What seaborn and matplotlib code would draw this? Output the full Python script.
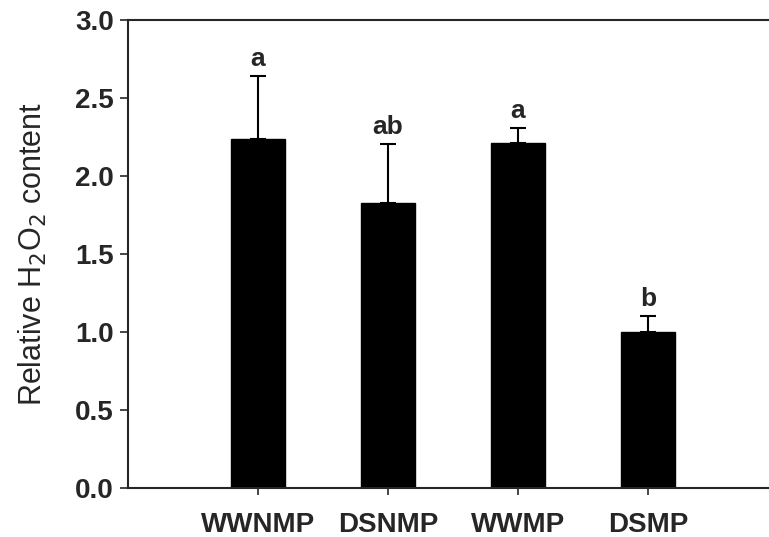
import pandas as pd
import seaborn as sns
import matplotlib.pyplot as plt

groups = ['WWNMP', 'DSNMP', 'WWMP', 'DSMP']
h2o2 = [2.24, 1.83, 2.21, 1.00]
h2o2_err = [0.40, 0.375, 0.10, 0.105]
letters = ['a', 'ab', 'a', 'b']

df = pd.DataFrame({'group': groups, 'value': h2o2, 'err': h2o2_err, 'sig': letters})

sns.set_style('ticks')
plt.rcParams['font.family'] = ['Liberation Sans', 'DejaVu Sans']

fig = plt.figure(figsize=(7.69, 5.37), dpi=100)
ax = fig.add_axes([128 / 769, 49 / 537, 652 / 769, 468 / 537])

sns.barplot(data=df, x='group', y='value', color='black', width=0.415,
            edgecolor='black', linewidth=1, errorbar=None, ax=ax)
ax.errorbar(range(len(df)), df['value'], yerr=[[0] * len(df), df['err']],
            fmt='none', ecolor='black', elinewidth=1.5, capsize=5.5, capthick=1.5)

for i, row in df.iterrows():
    ax.text(i, row['value'] + row['err'] + 0.03, row['sig'], ha='center', va='bottom',
            fontsize=19, fontweight='bold')

ax.set_xlim(-1, 4.015)
ax.set_ylim(0, 3.0)
ax.set_yticks([0, 0.5, 1.0, 1.5, 2.0, 2.5, 3.0])
ax.set_yticklabels(['0.0', '0.5', '1.0', '1.5', '2.0', '2.5', '3.0'])
ax.set_xlabel('')
ax.set_ylabel('Relative H$_2$O$_2$ content', fontsize=22, labelpad=19)
ax.tick_params(axis='y', labelsize=20, length=6, width=1.2, direction='out', pad=4)
ax.tick_params(axis='x', labelsize=20, length=5, width=1.2, direction='out', pad=12)
for lab in ax.get_xticklabels() + ax.get_yticklabels():
    lab.set_fontweight('bold')
for sp in ax.spines.values():
    sp.set_linewidth(1.5)

fig.savefig('out.png', dpi=100)
